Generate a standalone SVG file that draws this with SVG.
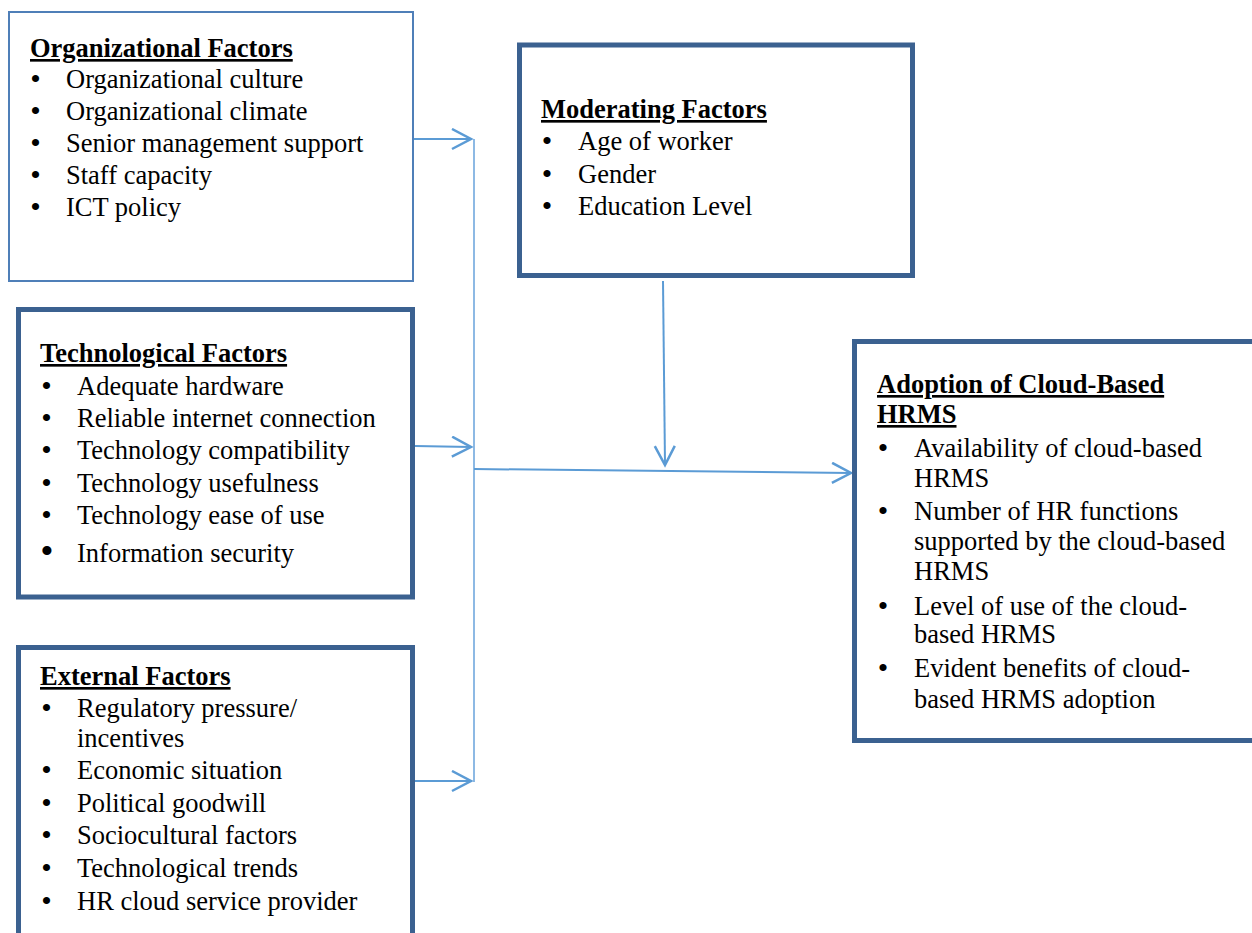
<svg xmlns="http://www.w3.org/2000/svg" width="1252" height="933" viewBox="0 0 1252 933">
<style>
text{font-family:'Liberation Serif','Times New Roman',serif;font-size:26.5px;fill:#000}
.t{font-weight:bold;text-decoration:underline}
.b{font-size:30px;text-anchor:middle}
.thin{fill:#fff;stroke:#4f7fb8;stroke-width:2}
.thick{fill:#fff;stroke:#3b6190;stroke-width:5}
.c{fill:none;stroke:#5b9bd5;stroke-width:2}
.v{fill:none;stroke:#8db9e4;stroke-width:2}
</style>
<defs>
<marker id="ah" markerWidth="24" markerHeight="24" refX="20" refY="11" orient="auto" markerUnits="userSpaceOnUse">
<path d="M1,1 L20,11 L1,21" fill="none" stroke="#5b9bd5" stroke-width="2.5"/>
</marker>
</defs>
<g id="connectors">
<line class="v" x1="474" y1="139" x2="474" y2="782"/>
<line class="c" x1="413" y1="139" x2="471" y2="139" marker-end="url(#ah)"/>
<line class="c" x1="415" y1="446" x2="471" y2="447" marker-end="url(#ah)"/>
<line class="c" x1="415" y1="781" x2="471" y2="781" marker-end="url(#ah)"/>
<line class="c" x1="474" y1="469" x2="851" y2="473" marker-end="url(#ah)"/>
<line class="c" x1="663" y1="281" x2="665" y2="465" marker-end="url(#ah)"/>
</g>
<g id="organizational">
<rect class="thin" x="9" y="12" width="404" height="269"/>
<text class="t" x="30" y="57">Organizational Factors</text>
<text class="b" x="35.5" y="89">•</text><text x="66" y="88">Organizational culture</text>
<text class="b" x="35.5" y="121">•</text><text x="66" y="120">Organizational climate</text>
<text class="b" x="35.5" y="153">•</text><text x="66" y="152">Senior management support</text>
<text class="b" x="35.5" y="185">•</text><text x="66" y="184">Staff capacity</text>
<text class="b" x="35.5" y="217">•</text><text x="66" y="216">ICT policy</text>
</g>
<g id="moderating">
<rect class="thick" x="519.5" y="45" width="393" height="230.5"/>
<text class="t" x="541" y="118">Moderating Factors</text>
<text class="b" x="547" y="151">•</text><text x="578" y="150">Age of worker</text>
<text class="b" x="547" y="184">•</text><text x="578" y="183">Gender</text>
<text class="b" x="547" y="216">•</text><text x="578" y="215">Education Level</text>
</g>
<g id="technological">
<rect class="thick" x="18.5" y="309.5" width="394" height="287.5"/>
<text class="t" x="40" y="362">Technological Factors</text>
<text class="b" x="46.5" y="396">•</text><text x="77" y="395">Adequate hardware</text>
<text class="b" x="46.5" y="428">•</text><text x="77" y="427">Reliable internet connection</text>
<text class="b" x="46.5" y="460">•</text><text x="77" y="459">Technology compatibility</text>
<text class="b" x="46.5" y="493">•</text><text x="77" y="492">Technology usefulness</text>
<text class="b" x="46.5" y="525">•</text><text x="77" y="524">Technology ease of use</text>
<text class="b" x="47" y="564" style="font-size:38px">•</text><text x="77" y="562">Information security</text>
</g>
<g id="external">
<rect class="thick" x="18.5" y="647.5" width="394" height="300"/>
<text class="t" x="40" y="685">External Factors</text>
<text class="b" x="46.5" y="718">•</text><text x="77" y="717">Regulatory pressure/</text>
<text x="77" y="747">incentives</text>
<text class="b" x="46.5" y="780">•</text><text x="77" y="779">Economic situation</text>
<text class="b" x="46.5" y="813">•</text><text x="77" y="812">Political goodwill</text>
<text class="b" x="46.5" y="845">•</text><text x="77" y="844">Sociocultural factors</text>
<text class="b" x="46.5" y="878">•</text><text x="77" y="877">Technological trends</text>
<text class="b" x="46.5" y="911">•</text><text x="77" y="910">HR cloud service provider</text>
</g>
<g id="adoption">
<rect class="thick" x="854.5" y="341.5" width="410" height="399"/>
<text class="t" x="877" y="393">Adoption of Cloud-Based</text>
<text class="t" x="877" y="423">HRMS</text>
<text class="b" x="883" y="458">•</text><text x="914" y="457">Availability of cloud-based</text>
<text x="914" y="487">HRMS</text>
<text class="b" x="883" y="521">•</text><text x="914" y="520">Number of HR functions</text>
<text x="914" y="550">supported by the cloud-based</text>
<text x="914" y="580">HRMS</text>
<text class="b" x="883" y="616">•</text><text x="914" y="615">Level of use of the cloud-</text>
<text x="914" y="643">based HRMS</text>
<text class="b" x="883" y="678">•</text><text x="914" y="677">Evident benefits of cloud-</text>
<text x="914" y="708">based HRMS adoption</text>
</g>
</svg>
